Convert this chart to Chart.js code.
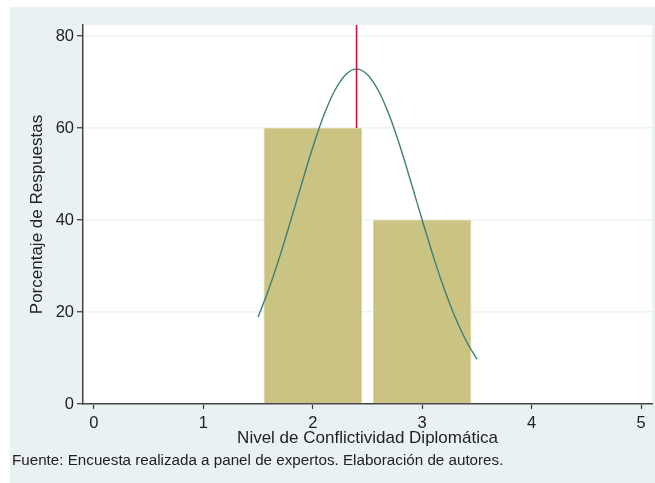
<!DOCTYPE html>
<html>
<head>
<meta charset="utf-8">
<script src="https://cdn.jsdelivr.net/npm/chart.js@4.4.1/dist/chart.umd.min.js"></script>
<style>
  html, body { margin: 0; padding: 0; background: #ffffff; }
  #wrap { width: 655px; height: 483px; }
</style>
</head>
<body>
<div id="wrap"><canvas id="myChart" width="655" height="483"></canvas></div>
<script>
// histogram bars (centre of each bin, % of answers)
const binCenters = [2, 3];
const binPercent = [60, 40];

// normal density overlay
const curveX = [1.5, 1.6, 1.7, 1.8, 1.9, 2.0, 2.1, 2.2, 2.3, 2.4, 2.5, 2.6, 2.7, 2.8, 2.9, 3.0, 3.1, 3.2, 3.3, 3.4, 3.5];
const curveY = [18.9, 25.1, 32.2, 40.0, 48.0, 55.8, 62.7, 68.1, 71.6, 72.8, 71.6, 68.1, 62.7, 55.8, 48.0, 40.0, 32.2, 25.1, 18.9, 13.8, 9.7];

// vertical mean line
const meanX = 2.4;
const meanFrom = 60;
const meanTo = 82.4;

// axes
const xTicks = [0, 1, 2, 3, 4, 5];
const yTicks = [0, 20, 40, 60, 80];

const fontFam = "'Liberation Sans', Arial, sans-serif";

const fondo = {
    id: 'fondo',
    beforeDraw(chart) {
        const ctx = chart.ctx;
        const a = chart.chartArea;
        ctx.save();
        ctx.fillStyle = '#ffffff';
        ctx.fillRect(0, 0, chart.width, chart.height);
        ctx.fillStyle = '#e9f1f3';
        ctx.fillRect(10, 7, chart.width - 10, chart.height - 7);
        ctx.fillStyle = '#ffffff';
        ctx.fillRect(a.left, a.top, a.right - a.left, a.bottom - a.top);
        ctx.restore();
    }
};

const ctx = document.getElementById('myChart').getContext('2d');

new Chart(ctx, {
    type: 'scatter',
    data: {
        datasets: [
            {
                type: 'line',
                label: 'Normal',
                data: curveX.map((x, i) => ({ x: x, y: curveY[i] })),
                borderColor: '#3b7f7b',
                borderWidth: 1.4,
                pointRadius: 0,
                cubicInterpolationMode: 'monotone',
                fill: false,
                order: 1
            },
            {
                type: 'line',
                label: 'Media',
                data: [{ x: meanX, y: meanFrom }, { x: meanX, y: meanTo }],
                borderColor: '#c8173f',
                borderWidth: 1.6,
                pointRadius: 0,
                fill: false,
                order: 0
            },
            {
                type: 'bar',
                label: 'Porcentaje',
                data: binCenters.map((x, i) => ({ x: x, y: binPercent[i] })),
                backgroundColor: '#cbc381',
                borderColor: '#dad4a2',
                borderWidth: 1,
                barPercentage: 0.9,
                categoryPercentage: 1,
                grouped: false,
                order: 2
            }
        ]
    },
    options: {
        responsive: false,
        animation: false,
        events: [],
        layout: {
            padding: { left: 12, right: 3, top: 25, bottom: 0 }
        },
        scales: {
            x: {
                type: 'linear',
                min: -0.1,
                max: 5.1,
                offset: false,
                afterBuildTicks: (s) => { s.ticks = xTicks.map(v => ({ value: v })); },
                afterFit: (s) => { s.height = 47.9; },
                grid: {
                    offset: false,
                    drawOnChartArea: false,
                    drawTicks: true,
                    tickLength: 5,
                    tickColor: '#333333',
                    tickWidth: 1.2
                },
                border: { display: true, color: '#444444', width: 1.5 },
                ticks: {
                    color: '#222222',
                    padding: 5,
                    maxRotation: 0,
                    font: { family: fontFam, size: 16.5 }
                },
                title: {
                    display: true,
                    text: 'Nivel de Conflictividad Diplomática',
                    color: '#222222',
                    font: { family: fontFam, size: 17 },
                    padding: { top: 0, bottom: 3.7 }
                }
            },
            y: {
                type: 'linear',
                min: 0,
                max: 82.4,
                afterBuildTicks: (s) => { s.ticks = yTicks.map(v => ({ value: v })); },
                afterFit: (s) => { s.width = 71; },
                grid: {
                    color: '#edf3f3',
                    lineWidth: 1.5,
                    drawTicks: true,
                    tickLength: 6,
                    tickColor: '#333333',
                    tickWidth: 1.2
                },
                border: { display: true, color: '#444444', width: 1.5 },
                ticks: {
                    color: '#222222',
                    padding: 3,
                    font: { family: fontFam, size: 16.5 }
                },
                title: {
                    display: true,
                    text: 'Porcentaje de Respuestas',
                    color: '#222222',
                    font: { family: fontFam, size: 17 },
                    padding: { top: 15, bottom: 0 }
                }
            }
        },
        plugins: {
            legend: { display: false },
            tooltip: { enabled: false },
            title: {
                display: true,
                position: 'bottom',
                align: 'start',
                text: 'Fuente: Encuesta realizada a panel de expertos. Elaboración de autores.',
                color: '#222222',
                font: { family: fontFam, size: 15.2, weight: 'normal' },
                padding: { top: 0, bottom: 12.9 }
            }
        }
    },
    plugins: [fondo]
});
</script>
</body>
</html>
